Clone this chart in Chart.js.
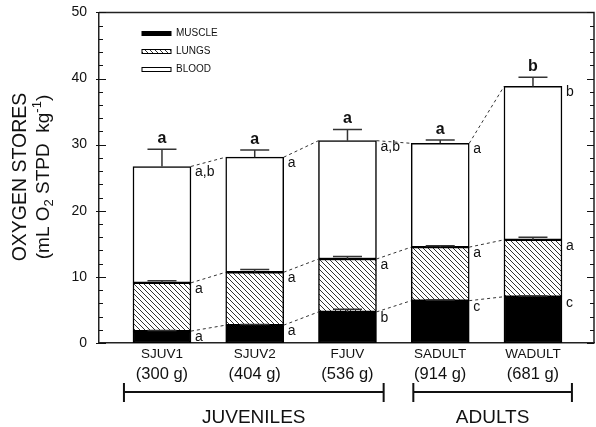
<!DOCTYPE html>
<html>
<head>
<meta charset="utf-8">
<script src="https://cdn.jsdelivr.net/npm/chart.js@4.4.1/dist/chart.umd.min.js"></script>
<style>
  html, body { margin: 0; padding: 0; background: #fff; }
  #wrap { width: 596px; height: 427px; }
</style>
</head>
<body>
<div id="wrap"><canvas id="myChart" width="596" height="427"></canvas></div>
<script>
// Datos
const groups = ['SJUV1', 'SJUV2', 'FJUV', 'SADULT', 'WADULT'];
const masses = ['(300 g)', '(404 g)', '(536 g)', '(914 g)', '(681 g)'];
const muscle = [1.8, 2.7, 4.7, 6.4, 7.0];
const lungs = [7.3, 8.0, 8.0, 8.1, 8.6];
const blood = [17.6, 17.4, 17.9, 15.7, 23.2];
const muscleSE = [0.1, 0.1, 0.4, 0.1, 0.1];
const lungsSE = [0.3, 0.4, 0.4, 0.2, 0.4];
const bloodSE = [2.6, 1.1, 1.7, 0.5, 1.4];
const totalLetters = ['a', 'a', 'a', 'a', 'b'];
const bloodLetters = ['a,b', 'a', 'a,b', 'a', 'b'];
const lungsLetters = ['a', 'a', 'a', 'a', 'a'];
const muscleLetters = ['a', 'a', 'b', 'c', 'c'];
const yTicks = [0, 10, 20, 30, 40, 50];

const FONT = 'Arial, "Liberation Sans", sans-serif';

// Patrón rayado para los pulmones
function makeHatch() {
    const c = document.createElement('canvas');
    c.width = 5; c.height = 5;
    const g = c.getContext('2d');
    g.fillStyle = '#fff';
    g.fillRect(0, 0, 5, 5);
    g.strokeStyle = '#333';
    g.lineWidth = 1;
    g.beginPath();
    g.moveTo(-1, -1); g.lineTo(6, 6);
    g.moveTo(-1, 4); g.lineTo(1, 6);
    g.moveTo(4, -1); g.lineTo(6, 1);
    g.stroke();
    return g.createPattern(c, 'repeat');
}

const ctx = document.getElementById('myChart').getContext('2d');
const hatch = makeHatch();

const xs = groups.map((g, i) => i + 1);
const toPts = arr => arr.map((v, i) => ({ x: xs[i], y: v }));

const decoPlugin = {
    id: 'deco',
    afterDraw(chart) {
        const { ctx, scales: { x, y }, chartArea: ca } = chart;
        const segs = [muscle, lungs, blood];
        const ses = [muscleSE, lungsSE, bloodSE];
        const lets = [muscleLetters, lungsLetters, bloodLetters];
        ctx.save();

        // marco: arriba y eje derecho
        ctx.strokeStyle = '#222';
        ctx.lineWidth = 1.5;
        ctx.beginPath();
        ctx.moveTo(ca.left, ca.top);
        ctx.lineTo(ca.right, ca.top);
        ctx.lineTo(ca.right, ca.bottom);
        ctx.stroke();

        // marcas hacia dentro en ambos lados
        ctx.lineWidth = 1.2;
        ctx.strokeStyle = '#111';
        for (let v = 0; v <= 50; v += 2) {
            const py = Math.round(y.getPixelForValue(v)) + 0.5;
            const len = v % 10 === 0 ? 7 : 4;
            ctx.beginPath();
            ctx.moveTo(ca.left - (v % 10 === 0 ? 3 : 0), py); ctx.lineTo(ca.left + len, py);
            ctx.moveTo(ca.right, py); ctx.lineTo(ca.right - len, py);
            ctx.stroke();
        }

        // topes de cada segmento
        const tops = segs.map((s, k) => s.map((v, i) => {
            let t = 0;
            for (let j = 0; j <= k; j++) t += segs[j][i];
            return t;
        }));

        const meta = chart.getDatasetMeta(0);
        const half = meta.data[0].width / 2;

        // líneas discontinuas
        ctx.strokeStyle = '#333';
        ctx.lineWidth = 1;
        ctx.setLineDash([3, 3]);
        tops.forEach(t => {
            for (let i = 0; i < t.length - 1; i++) {
                ctx.beginPath();
                ctx.moveTo(x.getPixelForValue(xs[i]) + half, y.getPixelForValue(t[i]));
                ctx.lineTo(x.getPixelForValue(xs[i + 1]) - half, y.getPixelForValue(t[i + 1]));
                ctx.stroke();
            }
        });
        ctx.setLineDash([]);

        // barras de error
        ctx.strokeStyle = '#333';
        ctx.lineWidth = 1.5;
        tops.forEach((t, k) => {
            t.forEach((v, i) => {
                const cx = x.getPixelForValue(xs[i]);
                const y0 = y.getPixelForValue(v);
                const y1 = y.getPixelForValue(v + ses[k][i]);
                ctx.beginPath();
                ctx.moveTo(cx, y0); ctx.lineTo(cx, y1);
                ctx.moveTo(cx - half / 2, y1); ctx.lineTo(cx + half / 2, y1);
                ctx.stroke();
            });
        });

        // letras a la derecha
        ctx.fillStyle = '#111';
        ctx.font = '14px ' + FONT;
        ctx.textAlign = 'left';
        ctx.textBaseline = 'alphabetic';
        tops.forEach((t, k) => {
            t.forEach((v, i) => {
                const px = x.getPixelForValue(xs[i]) + half + 4;
                ctx.fillText(lets[k][i], px, y.getPixelForValue(v) + 10);
            });
        });

        // letras en negrita arriba
        ctx.font = 'bold 16px ' + FONT;
        ctx.textAlign = 'center';
        tops[2].forEach((v, i) => {
            ctx.fillText(totalLetters[i], x.getPixelForValue(xs[i]), y.getPixelForValue(v + bloodSE[i]) - 6);
        });

        // leyenda
        const lx = 142, lw = 29;
        const items = [['MUSCLE', '#000', 33.5], ['LUNGS', hatch, 51.5], ['BLOOD', '#fff', 69.5]];
        ctx.font = '10px ' + FONT;
        ctx.textAlign = 'left';
        ctx.textBaseline = 'middle';
        items.forEach(([lab, fill, cy]) => {
            ctx.fillStyle = fill;
            ctx.fillRect(lx, cy - 2, lw, 4);
            ctx.strokeStyle = '#000';
            ctx.lineWidth = 1;
            ctx.strokeRect(lx, cy - 2, lw, 4);
            ctx.fillStyle = '#111';
            ctx.fillText(lab, lx + lw + 5, cy);
        });

        // etiquetas x
        ctx.textAlign = 'center';
        groups.forEach((g, i) => {
            const cx = x.getPixelForValue(xs[i]);
            ctx.font = '13.5px ' + FONT;
            ctx.fillText(g, cx, 354);
            ctx.font = '16.5px ' + FONT;
            ctx.fillText(masses[i], cx, 374);
        });

        // corchetes
        const brackets = [[0.59, 3.39, 'JUVENILES'], [3.71, 5.42, 'ADULTS']];
        ctx.strokeStyle = '#111';
        ctx.lineWidth = 2;
        ctx.font = '19px ' + FONT;
        brackets.forEach(([a, b, lab]) => {
            const xa = x.getPixelForValue(a), xb = x.getPixelForValue(b);
            ctx.beginPath();
            ctx.moveTo(xa, 392); ctx.lineTo(xb, 392);
            ctx.moveTo(xa, 383); ctx.lineTo(xa, 402);
            ctx.moveTo(xb, 383); ctx.lineTo(xb, 402);
            ctx.stroke();
            ctx.fillText(lab, (xa + xb) / 2, 418);
        });

        // título y
        ctx.translate(21, 177);
        ctx.rotate(-Math.PI / 2);
        ctx.font = '19.5px ' + FONT;
        ctx.textAlign = 'center';
        ctx.fillText('OXYGEN STORES', 0, 0);
        const parts = [['(mL O', 19, 0], ['2', 13, 5], [' STPD  kg', 19, 0], ['-1', 13, -7], [')', 19, 0]];
        let w = 0;
        parts.forEach(p => { ctx.font = p[1] + 'px ' + FONT; w += ctx.measureText(p[0]).width; });
        let px = -w / 2;
        ctx.textAlign = 'left';
        parts.forEach(p => {
            ctx.font = p[1] + 'px ' + FONT;
            ctx.fillText(p[0], px, 23 + p[2]);
            px += ctx.measureText(p[0]).width;
        });
        ctx.restore();
    }
};

const barBase = { barThickness: 58, borderColor: '#000', borderWidth: 1.5, borderSkipped: false };

new Chart(ctx, {
    type: 'bar',
    data: {
        datasets: [
            { ...barBase, label: 'MUSCLE', data: toPts(muscle), backgroundColor: '#000' },
            { ...barBase, label: 'LUNGS', data: toPts(lungs), backgroundColor: hatch },
            { ...barBase, label: 'BLOOD', data: toPts(blood), backgroundColor: '#fff' },
        ],
    },
    options: {
        responsive: false,
        animation: false,
        layout: { padding: { top: 12, right: 2, left: 0, bottom: 0 } },
        plugins: { legend: { display: false }, tooltip: { enabled: false } },
        scales: {
            x: {
                type: 'linear', stacked: true, min: 0.321, max: 5.658, offset: false,
                grid: { display: false },
                border: { display: true, color: '#222', width: 1.5 },
                ticks: { display: false },
                afterFit(s) { s.height = 84; },
            },
            y: {
                stacked: true, min: 0, max: 50,
                grid: { display: false },
                border: { display: true, color: '#222', width: 1.5 },
                afterBuildTicks(s) { s.ticks = yTicks.map(v => ({ value: v })); },
                ticks: { color: '#111', font: { family: FONT, size: 14 }, padding: 4 },
                afterFit(s) { s.width = 99; },
            },
        },
    },
    plugins: [decoPlugin],
});
</script>
</body>
</html>
